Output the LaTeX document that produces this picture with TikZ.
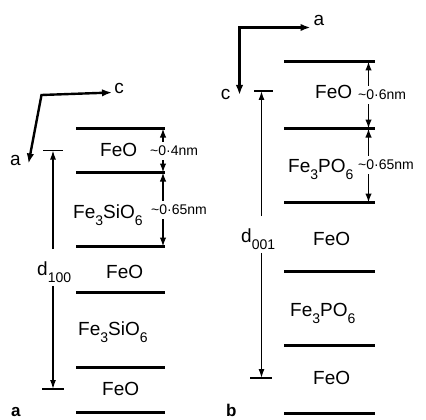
\documentclass[tikz,border=0pt]{standalone}
\usepackage{fontspec}
\setmainfont{Liberation Sans}
\usetikzlibrary{arrows.meta,calc}
\newcommand\chs[1]{\raisebox{-0.4em}{\fontsize{14}{14}\selectfont #1}}
\begin{document}
\begin{tikzpicture}[x=1pt,y=-1pt,
  layer/.style={line width=3pt},
  axis/.style={line width=2.4pt,{Latex[length=10pt,width=7.5pt]}-{Latex[length=10pt,width=7.5pt]}},
  dim/.style={line width=1.6pt,-{Latex[length=9pt,width=6.5pt]}},
  span/.style={line width=1.3pt,-{Latex[length=9pt,width=6pt]}},
  tickline/.style={line width=1.8pt},
  chem/.style={font=\fontsize{19}{19}\selectfont,inner sep=0pt},
  lbl/.style={font=\fontsize{19}{19}\selectfont,inner sep=0pt},
  dimlbl/.style={font=\fontsize{14}{14}\selectfont,inner xsep=0pt,inner ysep=4pt},
  panel/.style={font=\fontsize{17}{17}\selectfont\bfseries,inner sep=0pt},
]
\fill[white] (0,0) rectangle (426,420);
\useasboundingbox (0,0) rectangle (426,420);

% ---------------- panel a ----------------
\foreach \n/\y in {1/128.5,2/172.5,3/246.5,4/292.5,5/367.5,6/412.5}{
  \coordinate (aL\n W) at (76,\y);
  \coordinate (aL\n E) at (165,\y);
  \coordinate (aL\n D) at (163,\y);
  \draw[layer] (aL\n W) -- (aL\n E);
}
\node[chem,anchor=base west] (aT1) at (100,156.5) {FeO};
\node[chem,anchor=base west] (aT2) at (73,218) {Fe\chs{3}SiO\chs{6}};
\node[chem,anchor=base west] (aT3) at (106,278) {FeO};
\node[chem,anchor=base west] (aT4) at (78,335) {Fe\chs{3}SiO\chs{6}};
\node[chem,anchor=base west] (aT5) at (102,395.5) {FeO};

\node[dimlbl,anchor=west] (aM1) at (150,151) {\textasciitilde0·4nm};
\node[dimlbl,anchor=west] (aM2) at (151,210) {\textasciitilde0·65nm};
\draw[dim] (aM1.north -| aL1D) -- (aL1D);
\draw[dim] (aM1.south -| aL2D) -- (aL2D);
\draw[dim] (aM2.north -| aL2D) -- (aL2D);
\draw[dim] (aM2.south -| aL3D) -- (aL3D);

\coordinate (aK1) at (53,150.5);
\coordinate (aK1W) at (43,150.5);
\coordinate (aK1E) at (63,150.5);
\coordinate (aK2) at (53,389);
\coordinate (aK2W) at (42,389);
\coordinate (aK2E) at (64,389);
\draw[tickline] (aK1W) -- (aK1E);
\draw[tickline] (aK2W) -- (aK2E);
\node[chem,anchor=base west] (aD) at (37,275) {d\chs{100}};
\draw[span] ($(aD.north -| aK1)+(0,-12)$) -- (aK1);
\draw[span] ($(aD.south -| aK2)+(0,3)$) -- (aK2);

\coordinate (aO) at (41.5,95);
\coordinate (aC) at (112,92.5);
\coordinate (aA) at (28.5,163.5);
\draw[axis] (aC) -- (aO) -- (aA);
\node[lbl] (aClbl) at (119,88) {c};
\node[lbl] (aAlbl) at (15.5,160.5) {a};

\node[panel,anchor=base west] (pa) at (11,416.5) {a};

% ---------------- panel b ----------------
\foreach \n/\y in {1/61.5,2/128.5,3/202.5,4/271.5,5/345.5,6/413.5}{
  \coordinate (bL\n W) at (284,\y);
  \coordinate (bL\n E) at (375,\y);
  \coordinate (bL\n D) at (368.5,\y);
  \draw[layer] (bL\n W) -- (bL\n E);
}
\node[chem,anchor=base west] (bT1) at (315,98.5) {FeO};
\node[chem,anchor=base west] (bT2) at (288,172) {Fe\chs{3}PO\chs{6}};
\node[chem,anchor=base west] (bT3) at (313,245) {FeO};
\node[chem,anchor=base west] (bT4) at (290,316) {Fe\chs{3}PO\chs{6}};
\node[chem,anchor=base west] (bT5) at (313,384) {FeO};

\node[dimlbl,anchor=west] (bM1) at (358,95) {\textasciitilde0·6nm};
\node[dimlbl,anchor=west] (bM2) at (358,165) {\textasciitilde0·65nm};
\draw[dim] (bM1.north -| bL1D) -- (bL1D);
\draw[dim] (bM1.south -| bL2D) -- (bL2D);
\draw[dim] (bM2.north -| bL2D) -- (bL2D);
\draw[dim] (bM2.south -| bL3D) -- (bL3D);

\coordinate (bK1) at (261.5,91);
\coordinate (bK1W) at (254,91);
\coordinate (bK1E) at (273,91);
\coordinate (bK2) at (261.5,378);
\coordinate (bK2W) at (250,378);
\coordinate (bK2E) at (272,378);
\draw[tickline] (bK1W) -- (bK1E);
\draw[tickline] (bK2W) -- (bK2E);
\node[chem,anchor=base west] (bD) at (241,242) {d\chs{001}};
\draw[span] ($(bD.north -| bK1)+(0,-12)$) -- (bK1);
\draw[span] ($(bD.south -| bK2)+(0,3)$) -- (bK2);

\coordinate (bO) at (239.5,27.5);
\coordinate (bA) at (310.5,27.5);
\coordinate (bC) at (239.5,95);
\draw[axis] (bA) -- (bO) -- (bC);
\node[lbl] (bAlbl) at (319,20.5) {a};
\node[lbl] (bClbl) at (225.5,94) {c};

\node[panel,anchor=base west] (pb) at (226,416.5) {b};
\end{tikzpicture}
\end{document}
